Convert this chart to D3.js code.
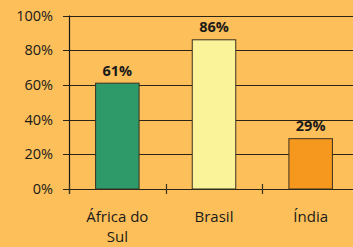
<!DOCTYPE html>
<html>
<head>
<meta charset="utf-8">
<script src="https://cdn.jsdelivr.net/npm/d3@7"></script>
<style>
  body { margin: 0; background: #fdbf59; }
  svg { display: block; }
  text { font-family: "Open Sans", "Noto Sans", sans-serif; fill: #1a1a1a; }
</style>
</head>
<body>
<svg></svg>
<script>
const categories = ["África do Sul", "Brasil", "Índia"]
const values = [61, 86, 29]
const colors = ["#2f9a69", "#faf39a", "#f7981e"]
const yTicks = [0, 20, 40, 60, 80, 100]

let w = 353, h = 247
let svg = d3.select("svg").attr("width", w).attr("height", h)

svg.append("rect").attr("width", w).attr("height", h).attr("fill", "#fdbf59")

let x = d3.scaleBand().domain(categories).range([69, 359]).paddingInner(0.55).paddingOuter(0.275)
let y = d3.scaleLinear().domain([0, 100]).range([189, 15.5])

// grid lines
svg.append("g")
    .selectAll("line")
    .data(yTicks)
    .enter().append("line")
    .attr("x1", 63)
    .attr("x2", w)
    .attr("y1", d => Math.round(y(d)) + 0.5)
    .attr("y2", d => Math.round(y(d)) + 0.5)
    .attr("stroke", "#2b2417")
    .attr("stroke-width", 1.2)

// y axis line
svg.append("line")
    .attr("x1", 69.5).attr("x2", 69.5)
    .attr("y1", y(100)).attr("y2", y(0) + 5)
    .attr("stroke", "#1a1a1a")
    .attr("stroke-width", 1.2)

// category separators on x axis
let seps = [69, 69 + x.step(), 69 + 2 * x.step()]
svg.append("g")
    .selectAll("line")
    .data(seps)
    .enter().append("line")
    .attr("x1", d => Math.round(d) + 0.5)
    .attr("x2", d => Math.round(d) + 0.5)
    .attr("y1", y(0) - 5)
    .attr("y2", y(0) + 5)
    .attr("stroke", "#3a3020")
    .attr("stroke-width", 1.2)

// bars
svg.append("g")
    .selectAll("rect")
    .data(values)
    .enter().append("rect")
    .attr("x", (d, i) => x(categories[i]))
    .attr("y", d => y(d))
    .attr("width", x.bandwidth())
    .attr("height", d => y(0) - y(d))
    .attr("fill", (d, i) => colors[i])
    .attr("stroke", "#3a3020")
    .attr("stroke-width", 1)

// value labels
svg.append("g")
    .selectAll("text")
    .data(values)
    .enter().append("text")
    .attr("x", (d, i) => x(categories[i]) + x.bandwidth() / 2)
    .attr("y", d => y(d) - 7.5)
    .attr("text-anchor", "middle")
    .attr("font-size", 14.5)
    .attr("font-weight", "bold")
    .text(d => d + "%")

// y tick labels
svg.append("g")
    .selectAll("text")
    .data(yTicks)
    .enter().append("text")
    .attr("x", 53)
    .attr("y", d => y(d) + 5)
    .attr("text-anchor", "end")
    .attr("font-size", 14.5)
    .text(d => d + "%")

// category labels (wrapped)
let catLines = [["África do", "Sul"], ["Brasil"], ["Índia"]]
let cl = svg.append("g")
    .selectAll("text")
    .data(categories)
    .enter().append("text")
    .attr("x", d => x(d) + x.bandwidth() / 2)
    .attr("y", 222)
    .attr("text-anchor", "middle")
    .attr("font-size", 15)
cl.each(function (d, i) {
    let t = d3.select(this)
    catLines[i].forEach((s, j) => {
        t.append("tspan")
            .attr("x", x(d) + x.bandwidth() / 2)
            .attr("dy", j == 0 ? 0 : 20)
            .text(s)
    })
})
</script>
</body>
</html>
